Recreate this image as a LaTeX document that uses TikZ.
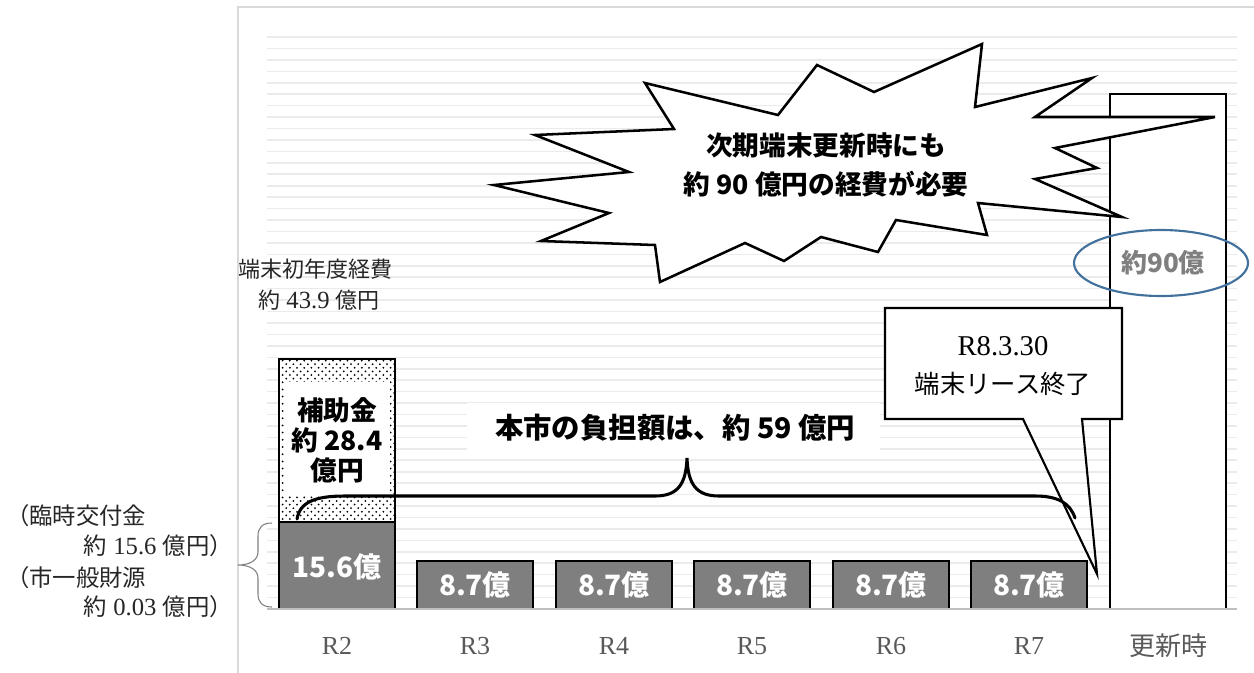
\documentclass[tikz,border=0pt]{standalone}
\usepackage{fontspec}
\setmainfont{Liberation Serif}
\newfontfamily\jp{Noto Sans CJK JP}
\usetikzlibrary{patterns}
\pgfdeclarepatternformonly{bigdots}{\pgfqpoint{-1pt}{-1pt}}{\pgfqpoint{5.5pt}{5.5pt}}{\pgfqpoint{5.4pt}{5.4pt}}{%
  \pgfpathcircle{\pgfqpoint{1.35pt}{1.35pt}}{0.75pt}%
  \pgfpathcircle{\pgfqpoint{4.05pt}{4.05pt}}{0.75pt}%
  \pgfusepath{fill}}
\definecolor{bargray}{HTML}{7F7F7F}
\definecolor{labgray}{HTML}{595959}
\definecolor{gridgray}{HTML}{EBEBEB}
\definecolor{framegray}{HTML}{D9D9D9}
\definecolor{axisgray}{HTML}{BFBFBF}
\definecolor{ellblue}{HTML}{41719C}
\begin{document}
\begin{tikzpicture}[x=0.75pt,y=-0.75pt,
  gridln/.style={draw=gridgray,line width=1.2pt},
  barbox/.style={fill=bargray,draw=black,line width=1.6pt},
  barlbl/.style={text=white,inner sep=0,font=\jp\bfseries\fontsize{21}{24}\selectfont},
  catlbl/.style={text=labgray,inner sep=0,font=\fontsize{19.5}{22}\selectfont},
  jbold/.style={inner sep=0,font=\jp\bfseries\fontsize{20}{22.5}\selectfont},
  serif/.style={inner sep=0,text=black!85,font=\fontsize{18.5}{22}\selectfont},
  outln/.style={draw=black,line width=1.6pt,line join=miter},
  bracestyle/.style={draw=black,line width=2.3pt,line cap=round},
  lbracestyle/.style={draw=gray,line width=0.8pt},
  ]
% canvas
\fill[white] (0,0) rectangle (1254,672);
\useasboundingbox (0,0) rectangle (1254,672);
% chart frame
\draw[framegray,line width=1.5pt] (238,690) -- (238,7) -- (1270,7);
% gridlines
\foreach \k in {0,...,49} \draw[gridln] (267,{37+\k*11.44}) -- (1237,{37+\k*11.44});
% bars
\draw[barbox] (279,522) rectangle (395,609);
\fill[white] (279,359) rectangle (395,522);
\fill[pattern=bigdots,pattern color=black] (279,359) rectangle (395,522);
\fill[white] (284,382) rectangle (390,495);
\draw[draw=black,line width=1.6pt] (279,359) rectangle (395,522);
\foreach \xa in {417,556,694,833,971} \draw[barbox] (\xa,561) rectangle ({\xa+116},609);
\draw[fill=white,draw=black,line width=1.6pt] (1110,94) rectangle (1226,609);
% axis
\draw[axisgray,line width=1.5pt] (267,609) -- (1237,609);
% bar labels
\node[barlbl] (v2) at (337,567) {15.6億};
\node[barlbl] (v3) at (475,585) {8.7億};
\node[barlbl] (v4) at (614,585) {8.7億};
\node[barlbl] (v5) at (752,585) {8.7億};
\node[barlbl] (v6) at (891,585) {8.7億};
\node[barlbl] (v7) at (1029,585) {8.7億};
% category labels
\node[catlbl] (c2) at (337,646) {R2};
\node[catlbl] (c3) at (475,646) {R3};
\node[catlbl] (c4) at (614,646) {R4};
\node[catlbl] (c5) at (752,646) {R5};
\node[catlbl] (c6) at (891,646) {R6};
\node[catlbl] (c7) at (1029,646) {R7};
\node[catlbl,font=\jp\fontsize{19.5}{22}\selectfont] (c8) at (1168,646) {更新時};
% subsidy text
\node[jbold,align=center,font=\jp\bfseries\fontsize{20}{22.5}\selectfont] (sub) at (337,440) {補助金\\約 28.4\\億円};
% burden text with white backing
\fill[white] (467,403) rectangle (880,452);
\node[jbold,font=\jp\bfseries\fontsize{21.3}{24}\selectfont] (burden) at (675,428) {本市の負担額は、約 59 億円};
% big brace
\coordinate (bl) at (297,519);
\coordinate (bm) at (687,458);
\coordinate (br) at (1075,518);
\draw[bracestyle] (bl) .. controls (300,502) and (315,496) .. (345,496) -- (655,496)
  .. controls (678,496) and (686,484) .. (bm)
  .. controls (688,484) and (696,496) .. (719,496) -- (1035,496)
  .. controls (1058,496) and (1070,503) .. (br);
% callout
\fill[white] (885,308) rectangle (1122,419);
\coordinate (tip) at (1097,574);
\draw[outln] (885,308) -- (1122,308) -- (1122,419) -- (1082,419) -- (tip) -- (1023,419) -- (885,419) -- cycle;
\node[inner sep=0,font=\fontsize{21.5}{24}\selectfont] (cdate) at (1003,346) {R8.3.30};
\node[inner sep=0,font=\jp\fontsize{19}{22}\selectfont] (cend) at (1003,384) {端末リース終了};
% starburst
\draw[outln,fill=white,line width=1.9pt] (645,83) -- (778,115) -- (817,65) -- (874,92) -- (982,44) -- (975,107)
  -- (1092,78) -- (1035,117) -- (1215,117) -- (1055,148) -- (1097,168) -- (1035,179) -- (1122,217)
  -- (978,203) -- (987,235) -- (896,220) -- (878,252) -- (821,237) -- (784,261) -- (745,243)
  -- (660,282) -- (655,245) -- (541,241) -- (609,213) -- (494,185) -- (629,172) -- (535,135)
  -- (674,129) -- cycle;
\node[jbold] (burst1) at (826,145) {次期端末更新時にも};
\node[jbold] (burst2) at (826,184) {約 90 億円の経費が必要};
% ellipse
\draw[ellblue,line width=1.6pt] (1161,263) ellipse [x radius=87, y radius=33];
\node[inner sep=0,text=bargray,font=\jp\bfseries\fontsize{19.5}{22}\selectfont] (n90) at (1163,263) {約90億};
% initial cost text
\node[serif,anchor=west,font=\jp\fontsize{16.5}{20}\selectfont] (init1) at (238,269) {端末初年度経費};
\node[serif,anchor=west] (init2) at (258,300) {{\jp\fontsize{16.5}{20}\selectfont 約} 43.9 {\jp\fontsize{16.5}{20}\selectfont 億円}};
% left brace and notes
\coordinate (lt) at (238,565);
\draw[lbracestyle] (272,523) .. controls (262,523) and (258,528) .. (258,536) -- (258,552)
  .. controls (258,560) and (250,565) .. (lt)
  .. controls (250,565) and (258,570) .. (258,578) -- (258,594)
  .. controls (258,602) and (262,607) .. (272,607);
\node[serif,anchor=west,font=\jp\fontsize{17.5}{20}\selectfont] (n1) at (6,516) {（臨時交付金};
\node[serif,anchor=east] (n2) at (233,546) {{\jp\fontsize{17.5}{20}\selectfont 約} 15.6 {\jp\fontsize{17.5}{20}\selectfont 億円）}};
\node[serif,anchor=west,font=\jp\fontsize{17.5}{20}\selectfont] (n3) at (6,578) {（市一般財源};
\node[serif,anchor=east] (n4) at (233,607) {{\jp\fontsize{17.5}{20}\selectfont 約} 0.03 {\jp\fontsize{17.5}{20}\selectfont 億円）}};
\end{tikzpicture}
\end{document}
